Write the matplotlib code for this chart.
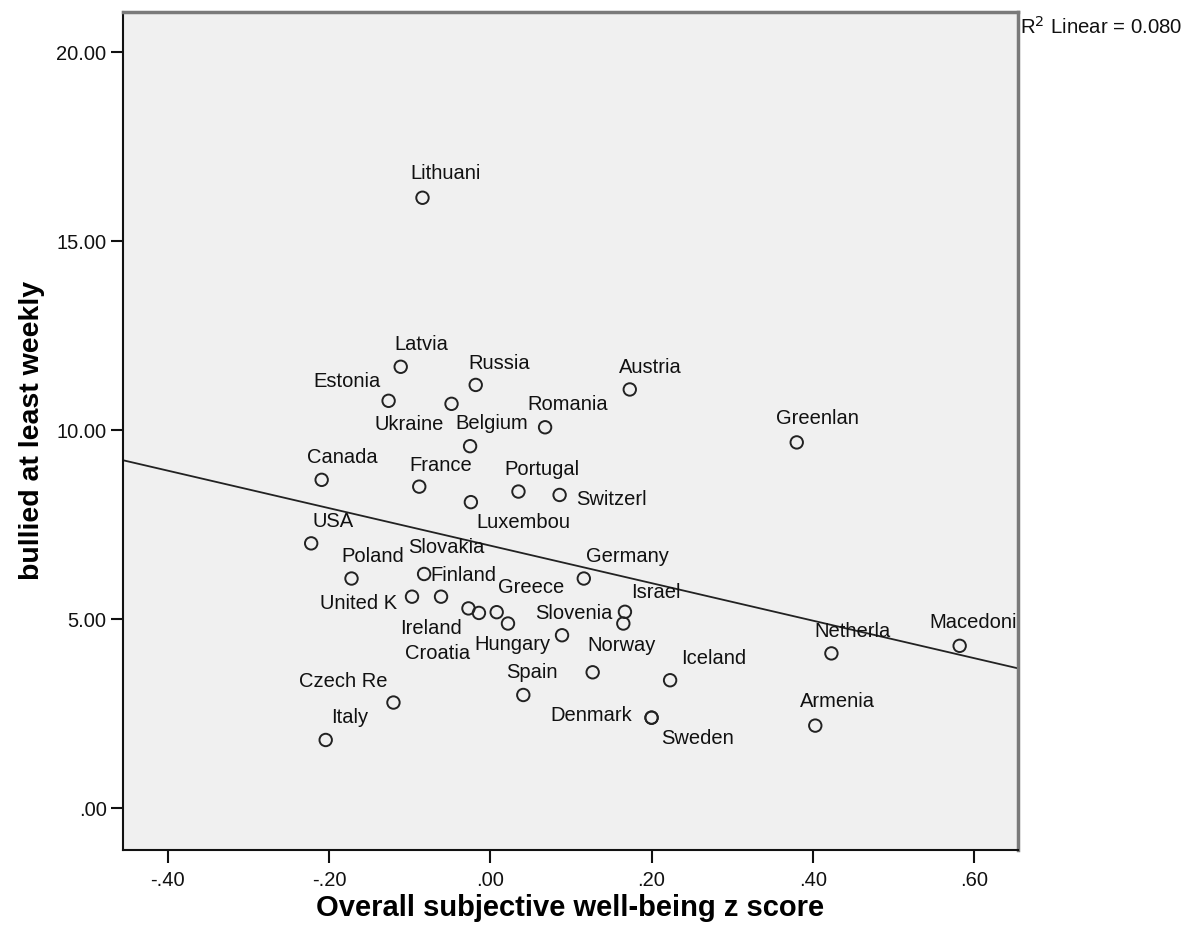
import numpy as np
import matplotlib
matplotlib.use("Agg")
import matplotlib.pyplot as plt

# country labels as printed (truncated to 8 chars like the source)
countries = ["Lithuani", "Latvia", "Russia", "Austria", "Estonia", "Ukraine",
             "Romania", "Belgium", "Greenlan", "Canada", "France", "Portugal",
             "Switzerl", "Luxembou", "USA", "Poland", "Slovakia", "Germany",
             "United K", "Finland", "Ireland", "Croatia", "Greece", "",
             "Hungary", "Slovenia", "Israel", "Norway", "Netherla", "Macedoni",
             "Iceland", "Spain", "Czech Re", "Italy", "Denmark", "Sweden",
             "Armenia"]

wellbeing_z = [-0.084, -0.111, -0.018, 0.173, -0.126, -0.048,
               0.068, -0.025, 0.380, -0.209, -0.088, 0.035,
               0.086, -0.024, -0.222, -0.172, -0.082, 0.116,
               -0.097, -0.061, -0.027, -0.014, 0.008, 0.022,
               0.089, 0.167, 0.165, 0.127, 0.423, 0.582,
               0.223, 0.041, -0.120, -0.204, 0.200, 0.200,
               0.403]

bullied_weekly = [16.15, 11.68, 11.20, 11.08, 10.78, 10.70,
                  10.08, 9.58, 9.68, 8.69, 8.51, 8.38,
                  8.29, 8.10, 7.01, 6.08, 6.20, 6.08,
                  5.60, 5.60, 5.29, 5.17, 5.19, 4.89,
                  4.58, 5.20, 4.89, 3.60, 4.10, 4.30,
                  3.39, 3.00, 2.80, 1.81, 2.40, 2.40,
                  2.19]

# fit line as shown on the chart (R^2 linear = 0.080)
fit_intercept = 6.95
fit_slope = -4.96
r2_text = "R$^2$ Linear = 0.080"

# label placement relative to each point (pixels, right / down)
label_dx = [23, 21, 23, 21, -42, -42,
            23, 22, 21, 21, 21, 23,
            52, 52, 22, 21, 22, 44,
            -53, 22, -37, -41, 34, 0,
            -50, -51, 33, 29, 21, 13,
            44, 9, -50, 24, -60, 46,
            22]
label_dy = [-24, -22, -21, -22, -19, 21,
            -23, -23, -24, -22, -21, -22,
            5, 20, -22, -22, -26, -22,
            7, -21, 20, 41, -25, 0,
            9, 2, -31, -27, -22, -23,
            -22, -22, -21, -22, -2, 21,
            -24]

xticks = [-0.4, -0.2, 0.0, 0.2, 0.4, 0.6]
xtick_labels = ["-.40", "-.20", ".00", ".20", ".40", ".60"]
yticks = [0, 5, 10, 15, 20]
ytick_labels = [".00", "5.00", "10.00", "15.00", "20.00"]

plt.rcParams['font.family'] = ['Liberation Sans', 'DejaVu Sans']

fig = plt.figure(figsize=(11.92, 9.38), dpi=100)
ax = fig.add_axes([0.1034, 0.0938, 0.7504, 0.8937])
ax.set_facecolor('#f0f0f0')

ax.scatter(wellbeing_z, bullied_weekly, s=80, facecolors='none',
           edgecolors='#222222', linewidths=1.4, zorder=3)

for name, x, y, dx, dy in zip(countries, wellbeing_z, bullied_weekly, label_dx, label_dy):
    if name:
        ax.annotate(name, (x, y), xytext=(dx, -dy), textcoords='offset pixels',
                    ha='center', va='center', fontsize=14.5, color='#111111', zorder=4)

xl = np.array([-0.455, 0.654])
ax.plot(xl, fit_intercept + fit_slope * xl, color='#222222', lw=1.3, zorder=2)

ax.set_xlim(-0.455, 0.654)
ax.set_ylim(-1.10, 21.07)
ax.set_xticks(xticks)
ax.set_xticklabels(xtick_labels)
ax.set_yticks(yticks)
ax.set_yticklabels(ytick_labels)
ax.tick_params(direction='out', length=9, width=1.5, labelsize=14.5,
               colors='#111111')
ax.tick_params(axis='x', pad=6)
ax.tick_params(axis='y', pad=3)

for side in ['left', 'bottom']:
    ax.spines[side].set_color('#111111')
    ax.spines[side].set_linewidth(1.5)
for side in ['top', 'right']:
    ax.spines[side].set_color('#7a7a7a')
    ax.spines[side].set_linewidth(2.5)

ax.set_xlabel("Overall subjective well-being z score", fontsize=21,
              fontweight='bold', labelpad=3)
ax.set_ylabel("bullied at least weekly", fontsize=20.5, fontweight='bold',
              labelpad=8)

fig.text(0.8555, 0.971, r2_text, fontsize=14.7, ha='left',
         va='center', color='#111111')

fig.savefig("out.png", dpi=100, facecolor='white')
